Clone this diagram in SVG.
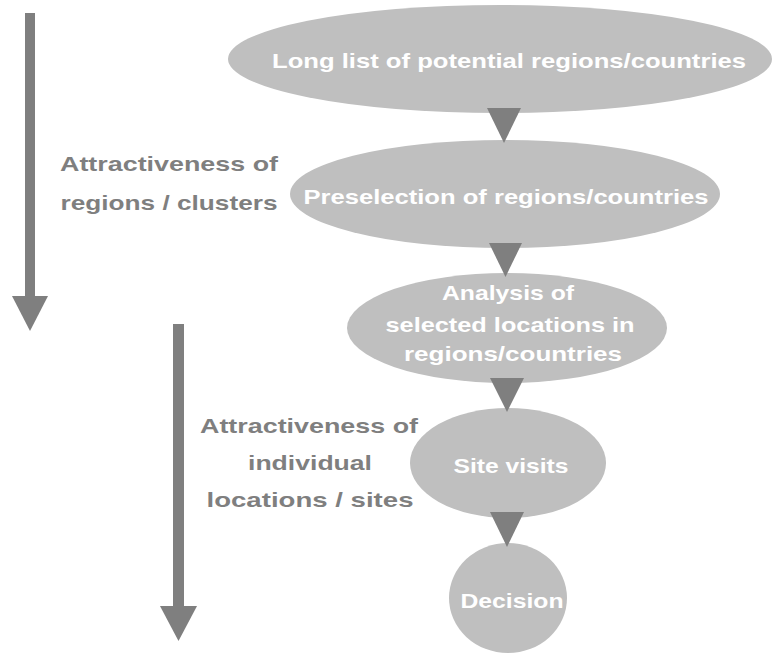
<svg xmlns="http://www.w3.org/2000/svg" width="772" height="654" viewBox="0 0 772 654">
  <style>
    .stage { fill: #bfbfbf; }
    .stage-text { font-family: "Liberation Sans", Arial, sans-serif; font-weight: bold; font-size: 21px; fill: #ffffff; text-anchor: middle; }
    .side-text { font-family: "Liberation Sans", Arial, sans-serif; font-weight: bold; font-size: 21px; fill: #7f7f7f; text-anchor: middle; }
    .step { fill: #7f7f7f; }
    .axis { fill: #7f7f7f; }
  </style>

  <!-- scope arrows on the left -->
  <g id="axis-regions">
    <rect class="axis" x="25" y="13" width="10" height="284"/>
    <polygon class="axis" points="12,296 48,296 30,331"/>
    <text class="side-text" x="169" y="171" textLength="218" lengthAdjust="spacingAndGlyphs">Attractiveness of</text>
    <text class="side-text" x="169" y="210" textLength="217" lengthAdjust="spacingAndGlyphs">regions / clusters</text>
  </g>
  <g id="axis-sites">
    <rect class="axis" x="173" y="324" width="11" height="284"/>
    <polygon class="axis" points="160,606 197,606 178.5,641"/>
    <text class="side-text" x="309" y="433" textLength="218" lengthAdjust="spacingAndGlyphs">Attractiveness of</text>
    <text class="side-text" x="310" y="470" textLength="124" lengthAdjust="spacingAndGlyphs">individual</text>
    <text class="side-text" x="310" y="507" textLength="207" lengthAdjust="spacingAndGlyphs">locations / sites</text>
  </g>

  <!-- funnel stages -->
  <g id="stage-longlist">
    <ellipse class="stage" cx="500" cy="59" rx="272" ry="54"/>
    <text class="stage-text" x="509" y="68" textLength="474" lengthAdjust="spacingAndGlyphs">Long list of potential regions/countries</text>
  </g>
  <g id="stage-preselection">
    <ellipse class="stage" cx="505" cy="194" rx="215" ry="54"/>
    <text class="stage-text" x="506" y="204" textLength="405" lengthAdjust="spacingAndGlyphs">Preselection of regions/countries</text>
  </g>
  <g id="stage-analysis">
    <ellipse class="stage" cx="507" cy="328" rx="160" ry="55"/>
    <text class="stage-text" x="508" y="300" textLength="132" lengthAdjust="spacingAndGlyphs">Analysis of</text>
    <text class="stage-text" x="510" y="332" textLength="249" lengthAdjust="spacingAndGlyphs">selected locations in</text>
    <text class="stage-text" x="513" y="361" textLength="218" lengthAdjust="spacingAndGlyphs">regions/countries</text>
  </g>
  <g id="stage-visits">
    <ellipse class="stage" cx="508" cy="463" rx="98" ry="55"/>
    <text class="stage-text" x="511" y="473" textLength="115" lengthAdjust="spacingAndGlyphs">Site visits</text>
  </g>
  <g id="stage-decision">
    <ellipse class="stage" cx="508" cy="598" rx="59" ry="55"/>
    <text class="stage-text" x="512" y="608" textLength="103" lengthAdjust="spacingAndGlyphs">Decision</text>
  </g>

  <!-- step connectors between stages -->
  <g id="connectors">
    <polygon class="step" points="487,108 521,108 504,143"/>
    <polygon class="step" points="489,243 522,243 505.5,277"/>
    <polygon class="step" points="490,378 524,378 507,412"/>
    <polygon class="step" points="490,512 524,512 507,547"/>
  </g>
</svg>
